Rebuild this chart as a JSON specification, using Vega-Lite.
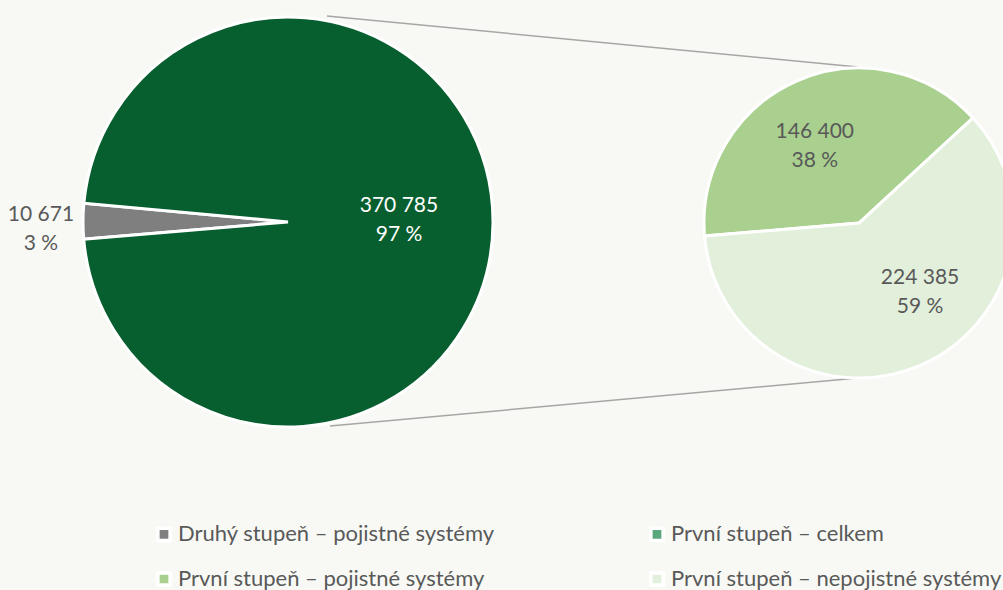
{
  "$schema": "https://vega.github.io/schema/vega-lite/v6.json",
  "width": 1003,
  "height": 444,
  "padding": 0,
  "background": "#f8f9f5",
  "config": {"view": {"stroke": null}, "font": "Lato"},
  "datasets": {
    "slices": [
      {"pie": "A", "cat": "Druhý stupeň – pojistné systémy", "value": 10671, "lbl": "10 671", "pct": "3 %"},
      {"pie": "A", "cat": "První stupeň – celkem", "value": 370785, "lbl": "370 785", "pct": "97 %"},
      {"pie": "B", "cat": "První stupeň – pojistné systémy", "value": 146400, "lbl": "146 400", "pct": "38 %"},
      {"pie": "B", "cat": "První stupeň – nepojistné systémy", "value": 224385, "lbl": "224 385", "pct": "59 %"}
    ],
    "links": [{"pie": "A", "to": "B"}]
  },
  "data": {"name": "slices"},
  "transform": [
    {"stack": "value", "groupby": ["pie"], "offset": "normalize", "as": ["v0", "v1"]},
    {"calculate": "(datum.v0 + datum.v1) / 2", "as": "mid"},
    {"calculate": "datum.lbl + '\\n' + datum.pct", "as": "t"}
  ],
  "encoding": {
    "x": {"field": "pie", "type": "nominal", "scale": {"type": "point", "domain": ["A", "B"], "range": [288, 859], "padding": 0}, "axis": null},
    "y": {"field": "pie", "type": "nominal", "scale": {"type": "point", "domain": ["A", "B"], "range": [222, 223], "padding": 0}, "axis": null}
  },
  "layer": [
    {
      "data": {"name": "links"},
      "mark": {"type": "rule", "color": "#a6a6a6", "strokeWidth": 1.5, "xOffset": 39, "yOffset": -206, "x2Offset": -1, "y2Offset": -156},
      "encoding": {
        "x": {"field": "pie", "type": "nominal"},
        "y": {"field": "pie", "type": "nominal"},
        "x2": {"field": "to"},
        "y2": {"field": "to"}
      }
    },
    {
      "data": {"name": "links"},
      "mark": {"type": "rule", "color": "#a6a6a6", "strokeWidth": 1.5, "xOffset": 42, "yOffset": 204, "x2Offset": -1, "y2Offset": 155},
      "encoding": {
        "x": {"field": "pie", "type": "nominal"},
        "y": {"field": "pie", "type": "nominal"},
        "x2": {"field": "to"},
        "y2": {"field": "to"}
      }
    },
    {
      "transform": [{"filter": "datum.pie === 'A'"}],
      "mark": {"type": "arc", "outerRadius": 205, "stroke": "white", "strokeWidth": 3},
      "encoding": {
        "theta": {"field": "v0", "type": "quantitative", "scale": {"domain": [0, 1], "range": [4.6286, 10.9118]}},
        "theta2": {"field": "v1"},
        "color": {
          "field": "cat", "type": "nominal",
          "condition": {"test": "datum.cat === 'První stupeň – celkem'", "value": "#075e2e"},
          "scale": {
            "domain": ["Druhý stupeň – pojistné systémy", "První stupeň – pojistné systémy", "První stupeň – celkem", "První stupeň – nepojistné systémy"],
            "range": ["#7f7f7f", "#a9d08e", "#5ba77c", "#e2efda"]
          },
          "legend": {
            "title": null, "orient": "none", "legendX": 153, "legendY": 523, "columns": 2, "columnPadding": 148, "rowPadding": 17,
            "symbolType": "square", "symbolSize": 150, "symbolStrokeColor": "white", "symbolStrokeWidth": 3.5, "symbolOpacity": 1,
            "labelFont": "Lato", "labelFontSize": 22, "labelColor": "#595959", "labelLimit": 500, "labelOffset": 3
          }
        }
      }
    },
    {
      "transform": [{"filter": "datum.pie === 'B'"}],
      "mark": {"type": "arc", "outerRadius": 155, "stroke": "white", "strokeWidth": 3},
      "encoding": {
        "theta": {"field": "v0", "type": "quantitative"},
        "theta2": {"field": "v1"},
        "color": {"field": "cat", "type": "nominal"}
      }
    },
    {
      "transform": [{"filter": "datum.cat === 'Druhý stupeň – pojistné systémy'"}],
      "mark": {"type": "text", "radius": 247, "fontSize": 21, "color": "#595959", "lineBreak": "\n", "lineHeight": 29, "align": "center", "baseline": "middle", "dy": -6},
      "encoding": {"theta": {"field": "mid", "type": "quantitative"}, "text": {"field": "t"}}
    },
    {
      "transform": [{"filter": "datum.cat === 'První stupeň – celkem'"}],
      "mark": {"type": "text", "radius": 111, "fontSize": 21, "color": "white", "lineBreak": "\n", "lineHeight": 29, "align": "center", "baseline": "middle", "dy": -16},
      "encoding": {"theta": {"field": "mid", "type": "quantitative"}, "text": {"field": "t"}}
    },
    {
      "transform": [{"filter": "datum.cat === 'První stupeň – pojistné systémy'"}],
      "mark": {"type": "text", "radius": 90, "fontSize": 21, "color": "#595959", "lineBreak": "\n", "lineHeight": 29, "align": "center", "baseline": "middle", "dx": -8, "dy": -9},
      "encoding": {"theta": {"field": "mid", "type": "quantitative"}, "text": {"field": "t"}}
    },
    {
      "transform": [{"filter": "datum.cat === 'První stupeň – nepojistné systémy'"}],
      "mark": {"type": "text", "radius": 92, "fontSize": 21, "color": "#595959", "lineBreak": "\n", "lineHeight": 29, "align": "center", "baseline": "middle", "dx": 24, "dy": -29},
      "encoding": {"theta": {"field": "mid", "type": "quantitative"}, "text": {"field": "t"}}
    }
  ]
}
